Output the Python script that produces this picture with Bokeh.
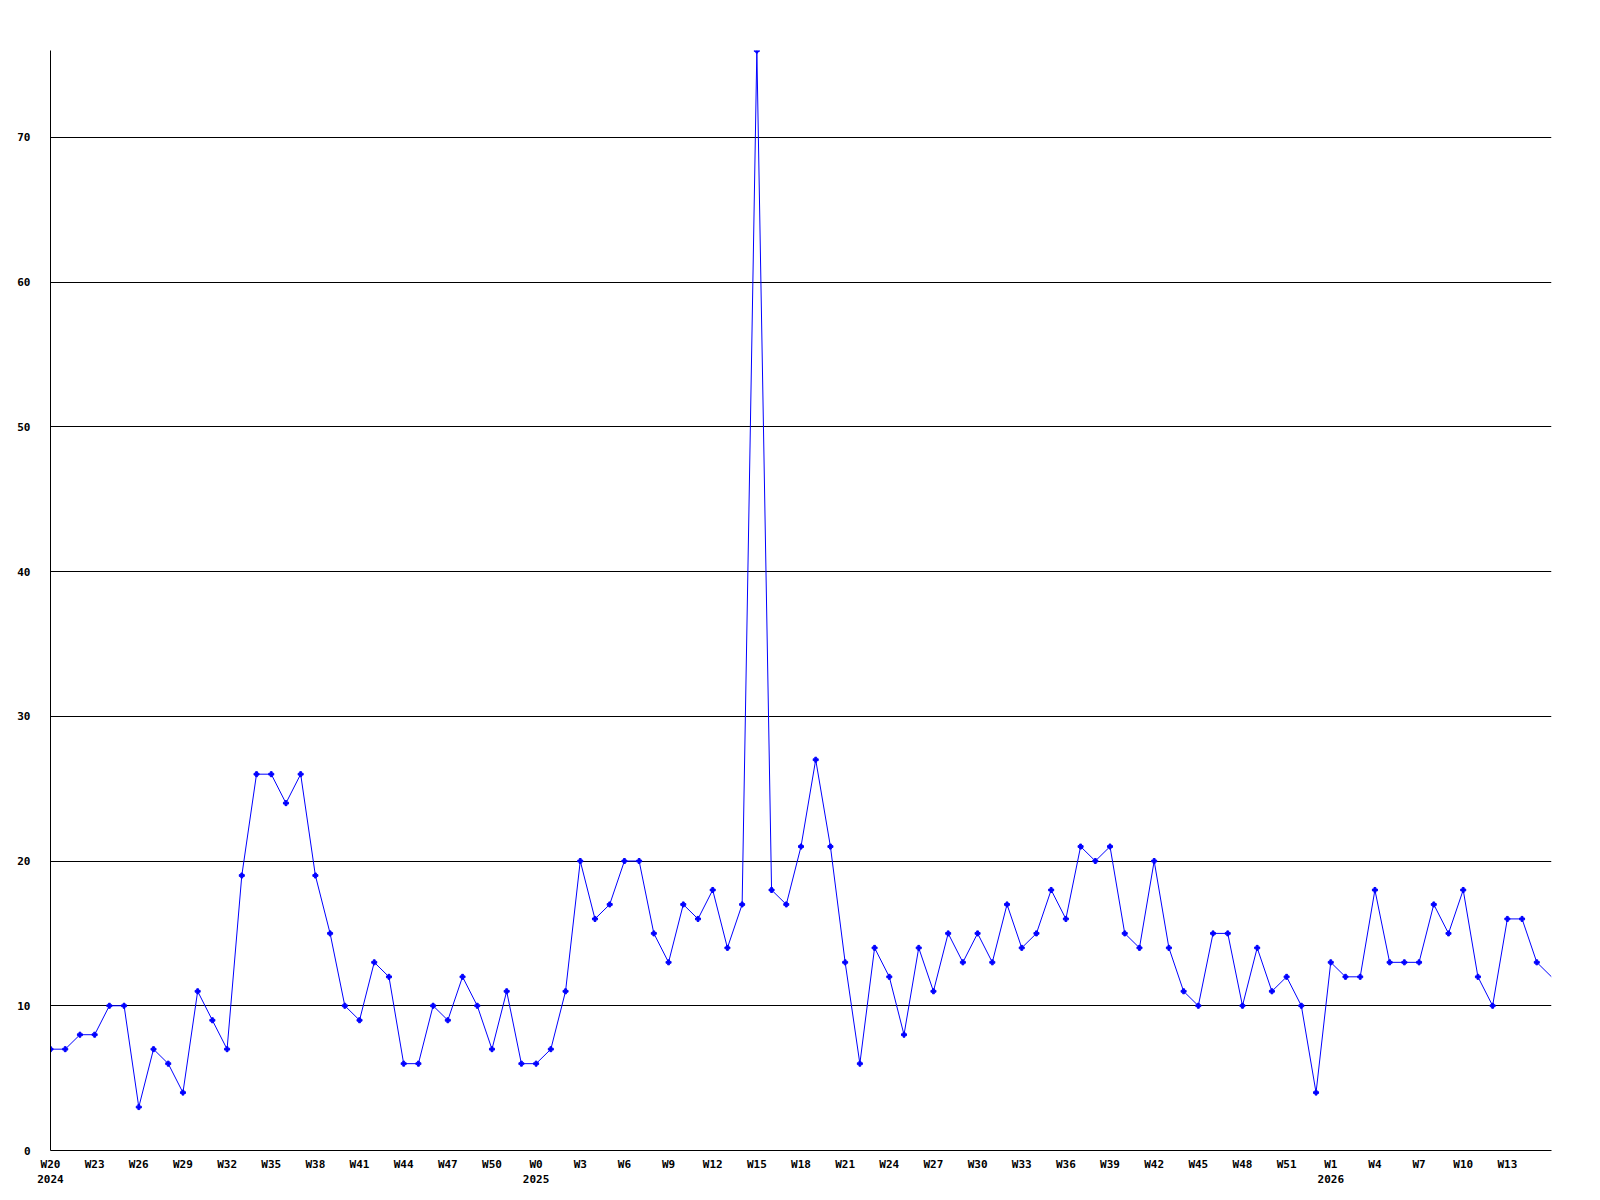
from bokeh.plotting import figure
from bokeh.models import FixedTicker, Range1d
from bokeh.embed import file_html
from bokeh.resources import INLINE

# weekly values, W20 2024 .. W16 2026
values = [7, 7, 8, 8, 10, 10, 3, 7, 6, 4, 11, 9, 7, 19, 26, 26, 24, 26, 19, 15,
          10, 9, 13, 12, 6, 6, 10, 9, 12, 10, 7, 11, 6, 6, 7, 11, 20, 16, 17, 20,
          20, 15, 13, 17, 16, 18, 14, 17, 76, 18, 17, 21, 27, 21, 13, 6, 14, 12, 8, 14,
          11, 15, 13, 15, 13, 17, 14, 15, 18, 16, 21, 20, 21, 15, 14, 20, 14, 11, 10, 15,
          15, 10, 14, 11, 12, 10, 4, 13, 12, 12, 18, 13, 13, 13, 17, 15, 18, 12, 10, 16,
          16, 13, 12]

# week labels (year, week number) for every point
years = [2024] * 33 + [2025] * 53 + [2026] * 17
weeks = list(range(20, 53)) + list(range(0, 53)) + list(range(0, 17))

tick_idx = list(range(0, 100, 3))
tick_labels = {}
seen_years = set()
for i in tick_idx:
    lab = "W%d" % weeks[i]
    if years[i] not in seen_years:
        seen_years.add(years[i])
        lab += "\n%d" % years[i]
    tick_labels[i] = lab

y_ticks = [0, 10, 20, 30, 40, 50, 60, 70]

x = list(range(len(values)))

p = figure(width=1592, height=1192, output_backend="svg", toolbar_location=None,
           x_range=Range1d(0, len(values) - 1), y_range=Range1d(0, max(values)),
           min_border_left=50, min_border_top=50, min_border_right=41, min_border_bottom=42)
p.outline_line_color = None
p.background_fill_color = "white"
p.border_fill_color = "white"

p.line(x, values, line_color="#0000ff", line_width=1)
p.scatter(x[:-1], values[:-1], marker="plus", size=5, color="#0000ff")

p.xaxis.ticker = FixedTicker(ticks=tick_idx)
p.xaxis.major_label_overrides = tick_labels
p.yaxis.ticker = FixedTicker(ticks=y_ticks)

for ax in (p.xaxis[0], p.yaxis[0]):
    ax.axis_line_color = "black"
    ax.axis_line_width = 1
    ax.major_tick_line_color = None
    ax.minor_tick_line_color = None
    ax.major_label_text_font = "DejaVu Sans Mono"
    ax.major_label_text_font_style = "bold"
    ax.major_label_text_font_size = "11px"
    ax.major_label_text_color = "black"

p.yaxis.major_label_standoff = 14
p.xaxis.major_label_standoff = 1

p.xgrid.grid_line_color = None
p.ygrid.grid_line_color = "black"
p.ygrid.grid_line_width = 1
p.ygrid.ticker = FixedTicker(ticks=y_ticks[1:])

open("out.html", "w").write(file_html(p, INLINE))
